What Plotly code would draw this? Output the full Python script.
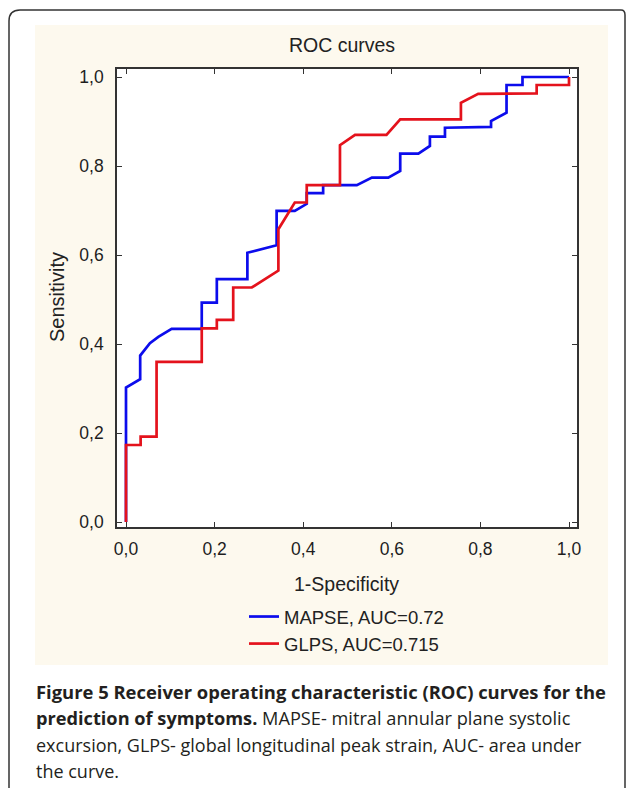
import plotly.graph_objects as go

# ---- data ----
mapse_fpr = [0.0, 0.0, 0.032, 0.032, 0.054, 0.073, 0.103, 0.171, 0.171, 0.205, 0.205,
             0.274, 0.274, 0.340, 0.340, 0.381, 0.408, 0.408, 0.445, 0.445, 0.521,
             0.555, 0.592, 0.619, 0.619, 0.660, 0.686, 0.686, 0.720, 0.720, 0.824,
             0.824, 0.859, 0.859, 0.895, 0.895, 1.0]
mapse_tpr = [0.0, 0.302, 0.321, 0.374, 0.402, 0.416, 0.434, 0.434, 0.493, 0.493, 0.546,
             0.546, 0.605, 0.622, 0.699, 0.699, 0.715, 0.739, 0.739, 0.757, 0.757,
             0.774, 0.774, 0.789, 0.828, 0.828, 0.845, 0.866, 0.866, 0.886, 0.888,
             0.901, 0.920, 0.982, 0.982, 1.0, 1.0]

glps_fpr = [0.0, 0.0, 0.033, 0.033, 0.069, 0.069, 0.171, 0.171, 0.205, 0.205, 0.242,
            0.242, 0.284, 0.344, 0.344, 0.381, 0.408, 0.408, 0.483, 0.483, 0.517,
            0.588, 0.619, 0.756, 0.756, 0.795, 0.927, 0.927, 1.0, 1.0]
glps_tpr = [0.0, 0.173, 0.173, 0.192, 0.192, 0.360, 0.360, 0.435, 0.435, 0.454, 0.454,
            0.527, 0.527, 0.565, 0.658, 0.718, 0.718, 0.757, 0.757, 0.847, 0.870,
            0.870, 0.905, 0.905, 0.942, 0.962, 0.963, 0.982, 0.982, 1.0]

tick_vals = [0.0, 0.2, 0.4, 0.6, 0.8, 1.0]
tick_text = ["0,0", "0,2", "0,4", "0,6", "0,8", "1,0"]

series_names = ["MAPSE, AUC=0.72", "GLPS, AUC=0.715"]
series_colors = ["#0c0cec", "#e4121c"]

title_text = "ROC curves"
x_title = "1-Specificity"
y_title = "Sensitivity"
caption_lines = [
    "<b>Figure 5 Receiver operating characteristic (ROC) curves for the</b>",
    "<b>prediction of symptoms.</b> MAPSE- mitral annular plane systolic",
    "excursion, GLPS- global longitudinal peak strain, AUC- area under",
    "the curve.",
]

# ---- geometry helpers (pixel -> paper) ----
W, H = 627, 788
L, R, T, B = 117, 577, 69, 527


def px(x):
    return (x - L) / (R - L)


def py(y):
    return (B - y) / (B - T)


FONT = "Liberation Sans, Arial"

fig = go.Figure()
fig.add_trace(go.Scatter(x=mapse_fpr, y=mapse_tpr, mode="lines", name=series_names[0],
                         line=dict(color=series_colors[0], width=2.7)))
fig.add_trace(go.Scatter(x=glps_fpr, y=glps_tpr, mode="lines", name=series_names[1],
                         line=dict(color=series_colors[1], width=2.7)))

axis_common = dict(
    showline=True, linecolor="#333333", linewidth=1.6, mirror="ticks",
    ticks="inside", ticklen=5, tickwidth=1.3, tickcolor="#333333",
    showgrid=False, zeroline=False, tickvals=tick_vals, ticktext=tick_text,
    tickfont=dict(family=FONT, size=17.5, color="#1e1e1e"),
)

fig.update_layout(
    width=W, height=H,
    margin=dict(l=L, r=W - R, t=T, b=H - B, pad=0),
    paper_bgcolor="white", plot_bgcolor="white",
    xaxis=dict(range=[(L - 126) / 443, (R - 126) / 443], ticklabelstandoff=5, **axis_common),
    yaxis=dict(range=[(522 - B) / 445, (522 - T) / 445], ticklabelstandoff=8, **axis_common),
    showlegend=True,
    legend=dict(x=px(244), y=py(598), xanchor="left", yanchor="top",
                bgcolor="rgba(0,0,0,0)", font=dict(family=FONT, size=18.5, color="#222222"),
                tracegroupgap=0, itemwidth=30),
    title=dict(text=title_text, x=px(342), xref="paper", y=1 - 45 / H, yanchor="middle",
               xanchor="center", font=dict(family=FONT, size=19.5, color="#222222")),
)

# background panel and rounded outer border
fig.add_shape(type="rect", xref="paper", yref="paper", layer="below",
              x0=px(35), x1=px(608), y0=py(665), y1=py(25),
              fillcolor="#fdf9ee", line=dict(width=0))
fig.add_shape(type="rect", xref="paper", yref="paper", layer="below",
              x0=0, x1=1, y0=0, y1=1, fillcolor="white", line=dict(width=0))
r = 11
path = (f"M {px(9)},{py(800)} L {px(9)},{py(10 + r)} "
        f"Q {px(9)},{py(10)} {px(9 + r)},{py(10)} "
        f"L {px(621)},{py(10)} Q {px(625)},{py(10)} {px(625)},{py(15)} L {px(625)},{py(800)}")
fig.add_shape(type="path", xref="paper", yref="paper", path=path,
              line=dict(color="#333333", width=1.5))

# axis titles
fig.add_annotation(text=x_title, xref="paper", yref="paper", x=px(346), y=py(584),
                   showarrow=False, xanchor="center", yanchor="middle",
                   font=dict(family=FONT, size=19.5, color="#222222"))
fig.add_annotation(text=y_title, xref="paper", yref="paper", x=px(57), y=py(297),
                   showarrow=False, xanchor="center", yanchor="middle", textangle=-90,
                   font=dict(family=FONT, size=20, color="#222222"))

# caption
cap_y = [691, 718, 745, 771]
cap_size = [18.4, 18.2, 18, 18]
for line, yy, sz in zip(caption_lines, cap_y, cap_size):
    fig.add_annotation(text=line, xref="paper", yref="paper", x=px(34), y=py(yy),
                       showarrow=False, xanchor="left", yanchor="middle",
                       font=dict(family="Open Sans", size=sz, color="#231f20"))

fig.write_html("out.html", config={"displayModeBar": False},
               post_script="document.body.style.margin='0';document.body.style.overflow='hidden';")
